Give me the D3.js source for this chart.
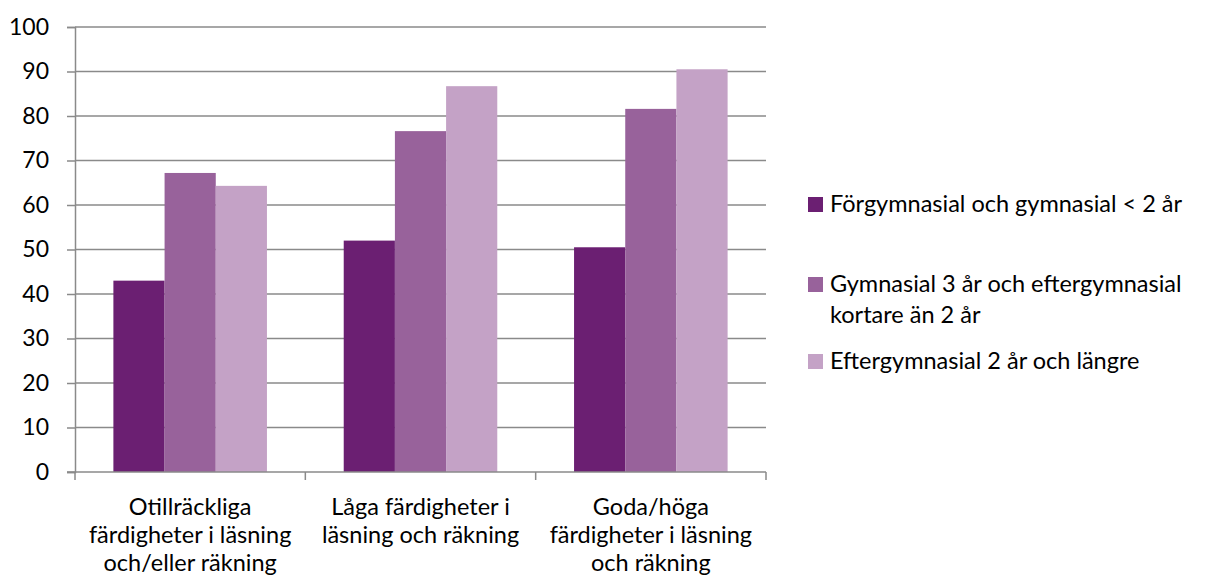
<!DOCTYPE html>
<html>
<head>
<meta charset="utf-8">
<script src="https://cdn.jsdelivr.net/npm/d3@7"></script>
<style>
  body { margin: 0; background: #fff; }
  text { font-family: Lato, "Open Sans", sans-serif; fill: #000; }
</style>
</head>
<body>
<svg width="1205" height="584"></svg>
<script>
// data
const categories = [
  ["Otillräckliga", "färdigheter i läsning", "och/eller räkning"],
  ["Låga färdigheter i", "läsning och räkning"],
  ["Goda/höga", "färdigheter i läsning", "och räkning"]
];
const seriesNames = [
  ["Förgymnasial och gymnasial < 2 år"],
  ["Gymnasial 3 år och eftergymnasial", "kortare än 2 år"],
  ["Eftergymnasial 2 år och längre"]
];
const forgymnasial = [43, 52, 50.5];
const gymnasial3 = [67.2, 76.6, 81.6];
const eftergymnasial = [64.3, 86.7, 90.5];
const yTicks = [0, 10, 20, 30, 40, 50, 60, 70, 80, 90, 100];
const colors = ["#6B1F72", "#98629B", "#C4A2C6"];

const series = [forgymnasial, gymnasial3, eftergymnasial];

const svg = d3.select("svg");
const plotLeft = 75, plotRight = 766, plotTop = 27, plotBottom = 472;

const x0 = d3.scaleBand().domain(d3.range(categories.length)).range([plotLeft, plotRight]);
const x1 = d3.scaleBand().domain(d3.range(series.length))
  .range([0, x0.bandwidth()]).paddingOuter(0.75).paddingInner(0);
const y = d3.scaleLinear().domain([0, 100]).range([plotBottom, plotTop]);

// gridlines
svg.append("g")
  .selectAll("line")
  .data(yTicks.filter(d => d > 0))
  .join("line")
  .attr("x1", plotLeft).attr("x2", plotRight)
  .attr("y1", d => y(d)).attr("y2", d => y(d))
  .attr("stroke", "#8a8a8a").attr("stroke-width", 1.5);

// bars
const groups = svg.append("g")
  .selectAll("g")
  .data(categories.map((c, i) => i))
  .join("g")
  .attr("transform", i => `translate(${x0(i)},0)`);

groups.selectAll("rect")
  .data(i => series.map((s, j) => ({ j: j, v: s[i] })))
  .join("rect")
  .attr("x", d => x1(d.j))
  .attr("width", x1.bandwidth())
  .attr("y", d => y(d.v))
  .attr("height", d => y(0) - y(d.v))
  .attr("fill", d => colors[d.j]);

// y axis
const yAxis = svg.append("g")
  .attr("transform", `translate(${plotLeft},0)`)
  .call(d3.axisLeft(y).tickValues(yTicks).tickSize(8).tickPadding(18));
yAxis.select(".domain").attr("stroke", "#8a8a8a").attr("stroke-width", 1.5);
yAxis.selectAll(".tick line").attr("stroke", "#8a8a8a").attr("stroke-width", 1.5);
yAxis.selectAll(".tick text").style("font-size", "23px").attr("fill", "#000");

// x axis
const xAxis = svg.append("g").attr("transform", `translate(0,${plotBottom})`);
xAxis.append("line")
  .attr("x1", plotLeft - 8).attr("x2", plotRight)
  .attr("stroke", "#8a8a8a").attr("stroke-width", 1.5);
xAxis.selectAll(".xt")
  .data(d3.range(categories.length + 1))
  .join("line")
  .attr("class", "xt")
  .attr("x1", i => plotLeft + i * x0.step()).attr("x2", i => plotLeft + i * x0.step())
  .attr("y1", 0).attr("y2", 8)
  .attr("stroke", "#8a8a8a").attr("stroke-width", 1.5);

xAxis.selectAll(".xl")
  .data(categories)
  .join("text")
  .attr("class", "xl")
  .attr("text-anchor", "middle")
  .style("font-size", "23.5px")
  .each(function (d, i) {
    d3.select(this).selectAll("tspan")
      .data(d)
      .join("tspan")
      .attr("x", x0(i) + x0.bandwidth() / 2)
      .attr("y", (t, k) => 43 + k * 28)
      .text(t => t);
  });

// legend
const legendBase = [212, 292, 369];
const legend = svg.append("g");
seriesNames.forEach((name, j) => {
  legend.append("rect")
    .attr("x", 808).attr("y", legendBase[j] - 15)
    .attr("width", 15).attr("height", 15)
    .attr("fill", colors[j]);
  const t = legend.append("text").style("font-size", "23.5px");
  name.forEach((line, k) => {
    t.append("tspan")
      .attr("x", 830)
      .attr("y", legendBase[j] + k * 31)
      .text(line);
  });
});
</script>
</body>
</html>
